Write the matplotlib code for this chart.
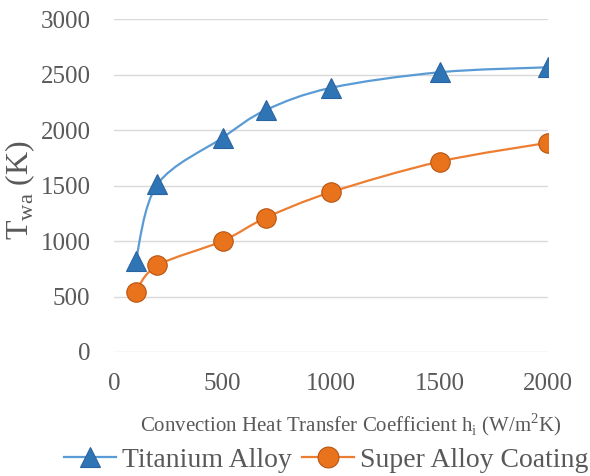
import numpy as np
import matplotlib.pyplot as plt
from matplotlib.path import Path
from matplotlib.patches import PathPatch
from matplotlib.lines import Line2D

plt.rcParams['font.family'] = ['Liberation Serif', 'DejaVu Serif']

# data
h = [100, 200, 500, 700, 1000, 1500, 2000]
titanium = [820, 1510, 1930, 2180, 2380, 2520, 2565]
superalloy = [545, 780, 1000, 1210, 1440, 1715, 1885]

yticks = [0, 500, 1000, 1500, 2000, 2500, 3000]
xticks = [0, 500, 1000, 1500, 2000]

blue_line = '#5B9BD5'
blue_mark = '#2F74B5'
orange_line = '#ED7D31'
orange_mark = '#E8731C'
grey = '#595959'


def smooth_path(x, y):
    # excel style smoothed line (catmull-rom as bezier)
    p = np.column_stack([x, y]).astype(float)
    n = len(p)
    verts = [p[0]]
    codes = [Path.MOVETO]
    for i in range(n - 1):
        p0 = p[i - 1] if i > 0 else p[i]
        p3 = p[i + 2] if i + 2 < n else p[i + 1]
        c1 = p[i] + (p[i + 1] - p0) / 6
        c2 = p[i + 1] - (p3 - p[i]) / 6
        verts += [c1, c2, p[i + 1]]
        codes += [Path.CURVE4] * 3
    return Path(verts, codes)


fig = plt.figure(figsize=(5.9, 4.76), dpi=100)
ax = fig.add_axes([114 / 590, 1 - 352 / 476, 434 / 590, 333 / 476])

ax.add_patch(PathPatch(smooth_path(h, titanium), fill=False, edgecolor=blue_line, lw=1.6, zorder=3))
ax.add_patch(PathPatch(smooth_path(h, superalloy), fill=False, edgecolor=orange_line, lw=1.6, zorder=3))
ax.plot(h, titanium, ls='none', marker='^', ms=14, mfc=blue_mark, mec='#2A64A0', mew=0.8, zorder=4)
ax.plot(h, superalloy, ls='none', marker='o', ms=14, mfc=orange_mark, mec='#B85510', mew=0.8, zorder=4)

ax.set_xlim(0, 2000)
ax.set_ylim(0, 3000)
ax.set_xticks(xticks)
ax.set_yticks(yticks)
ax.grid(axis='y', color='#D9D9D9', lw=1)
ax.set_axisbelow(True)
for s in ax.spines.values():
    s.set_visible(False)
ax.tick_params(length=0, labelsize=18, labelcolor=grey)
ax.tick_params(axis='y', pad=17)
ax.tick_params(axis='x', pad=15)

fig.text(20 / 590, 1 - 190 / 476, 'T$_{\\mathregular{wa}}$ (K)', fontsize=23, color=grey,
         rotation=90, ha='center', va='center')
fig.text(351 / 590, 1 - 425 / 476, 'Convection Heat Transfer Coefficient h$_{\\mathregular{i}}$ (W/m$^{\\mathregular{2}}$K)',
         fontsize=15, color=grey, ha='center', va='center')

handles = [
    Line2D([], [], color=blue_line, lw=1.6, marker='^', ms=15, mfc=blue_mark, mec='#2A64A0', mew=0.8),
    Line2D([], [], color=orange_line, lw=1.6, marker='o', ms=15, mfc=orange_mark, mec='#B85510', mew=0.8),
]
leg = fig.legend(handles, ['Titanium Alloy', 'Super Alloy Coating'], loc='center left',
                 bbox_to_anchor=(64 / 590, 1 - 460 / 476), ncol=2, frameon=False,
                 borderpad=0, borderaxespad=0,
                 fontsize=20, handlelength=1.87, handletextpad=0.22, columnspacing=0.36)
for t in leg.get_texts():
    t.set_color(grey)

fig.savefig('out.png', dpi=100)
